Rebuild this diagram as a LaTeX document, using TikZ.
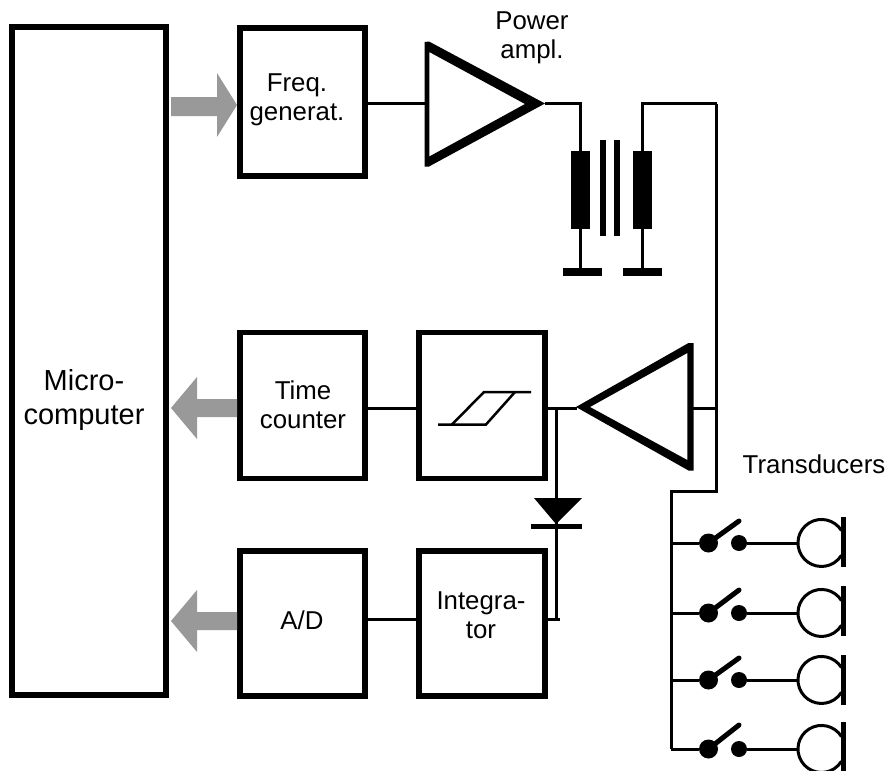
\documentclass[tikz,border=0pt]{standalone}
\usepackage{fontspec}
\setmainfont{Liberation Sans}
\usepackage{xcolor}
\usepackage{tikz}
\definecolor{arrowgray}{HTML}{999999}

\begin{document}
\begin{tikzpicture}[
  x=0.02cm, y=-0.02cm,
  block/.style={draw, line width=0.11cm, inner sep=0pt},
  wire/.style={line width=0.06cm},
  amp/.style={fill=black, even odd rule},
  lbl/.style={inner sep=0pt, align=center, font=\fontsize{14.7}{16.5}\selectfont},
  coil/.style={fill=black, inner sep=0pt, minimum width=0.38cm, minimum height=1.56cm},
  core/.style={fill=black, inner sep=0pt, minimum width=0.11cm, minimum height=1.92cm},
  plate/.style={fill=black, inner sep=0pt, minimum width=0.78cm, minimum height=0.16cm},
  contacta/.style={circle, fill=black, inner sep=0pt, minimum size=0.38cm},
  contactb/.style={circle, fill=black, inner sep=0pt, minimum size=0.32cm},
  blade/.style={line width=0.1cm, line cap=round},
  micplate/.style={fill=black, inner sep=0pt, minimum width=0.11cm, minimum height=1cm},
  bigarrow/.style={fill=arrowgray},
]
\useasboundingbox (0,0) rectangle (886,771);

% Blocks
\node (micro) [block, minimum width=3.08cm, minimum height=13.36cm] at (89,361) {};
\node (freq) [block, minimum width=2.5cm, minimum height=2.96cm] at (302.5,102) {};
\node (time) [block, minimum width=2.5cm, minimum height=2.92cm] at (302.5,405.5) {};
\node (ad) [block, minimum width=2.5cm, minimum height=2.9cm] at (302.5,623.5) {};
\node (schmitt) [block, minimum width=2.52cm, minimum height=2.92cm] at (482,405.5) {};
\node (integ) [block, minimum width=2.52cm, minimum height=2.9cm] at (482,623.5) {};

% Block labels
\node (microtext) [lbl, font=\fontsize{16.5}{19.5}\selectfont] at (84,400) {Micro-\\computer};
\node (freqtext) [lbl] at (297,100) {Freq.\\generat.};
\node (timetext) [lbl] at (303,405) {Time\\counter};
\node (adtext) [lbl] at (302,620) {A/D};
\node (integtext) [lbl] at (481,615) {Integra-\\tor};

% Big arrows
\fill[bigarrow] (171,97) -- (217,97) -- (217,73) -- (237,105) -- (217,137) -- (217,116) -- (171,116) -- cycle;
\fill[bigarrow] (237,399) -- (197,399) -- (197,377) -- (171,408) -- (197,439) -- (197,417) -- (237,417) -- cycle;
\fill[bigarrow] (237,612) -- (197,612) -- (197,590) -- (171,621) -- (197,652) -- (197,630) -- (237,630) -- cycle;

% Power amplifier
\coordinate (pain) at (425,103.5);
\coordinate (paout) at (545,103.5);
\fill[amp] (424.5,42) -- (429,41.5) -- (paout) -- (429,166.5) -- (424.5,166.5) -- cycle
  (429.3,52) -- (525,104) -- (429.3,156.5) -- cycle;
\node (power) [lbl] at (532,38) {Power\\ampl.};
\draw[wire] (freq.east |- pain) -- (pain);

% Transformer
\node (coila) [coil] at (580.5,190) {};
\node (coilb) [coil] at (642.5,190) {};
\node (corea) [core] at (603,188) {};
\node (coreb) [core] at (617,188) {};
\node (gnda) [plate] at (582,272) {};
\node (gndb) [plate] at (642,272) {};
\coordinate (bus) at (716.5,103.5);
\draw[wire] (paout) -| (coila);
\draw[wire] (coila) -- (coila |- gnda.north);
\draw[wire] (coilb) -- (coilb |- gndb.north);
\draw[wire] (coilb) |- (bus);

% Receive amplifier
\coordinate (rain) at (693,408);
\coordinate (raout) at (577,408);
\fill[amp] (693.5,343) -- (688.5,343) -- (576,407) -- (688.5,470.5) -- (693.5,470.5) -- cycle
  (687.3,353) -- (590,407) -- (687.3,460) -- cycle;
\coordinate (busb) at (716.5,408);
\coordinate (busc) at (716.5,491);
\coordinate (busd) at (671,491);
\coordinate (buse) at (671,749);
\draw[wire] (bus) -- (busc) -- (busd) -- (buse);
\draw[wire] (rain) -- (busb);
\draw[wire] (schmitt.east |- raout) -- (raout);

% Hysteresis symbol
\draw[line width=0.05cm] (438,424.5) -- (486,424.5) -- (515,392);
\draw[line width=0.05cm] (452,424.5) -- (484,392) -- (531,392);

% Rest of the chain
\draw[wire] (time.east |- raout) -- (schmitt.west |- raout);

% Diode
\coordinate (diodetop) at (556,408);
\coordinate (diodeend) at (556,619);
\coordinate (diodetick) at (560,619);
\draw[wire] (diodetop) -- (diodeend);
\draw[wire] (integ.east |- diodeend) -- (diodetick);
\draw[wire] (ad.east |- diodeend) -- (integ.west |- diodeend);
\node (diodebar) [fill=black, inner sep=0pt, minimum width=1.02cm, minimum height=0.1cm] at (556.5,526.5) {};
\fill (534,498) -- (582,498) -- (556,524) -- cycle;

% Transducers
\node (trans) [lbl] at (814,464) {Transducers};

% Row 1
\node (swaa) [contacta] at (708.5,543) {};
\node (swab) [contactb] at (739,543) {};
\coordinate (mica) at (798,543);
\node (plata) [micplate] at (843.5,542) {};
\draw[wire] (671,543) -- (swaa);
\draw[wire] (swab) -- (mica);
\draw[blade] (swaa.center) -- (739,521);
\draw[wire] (841.4,530.5) arc[start angle=32, end angle=328, radius=0.47cm];

% Row 2
\node (swba) [contacta] at (708.5,613) {};
\node (swbb) [contactb] at (739,613) {};
\coordinate (micb) at (798,613);
\node (platb) [micplate] at (843.5,611) {};
\draw[wire] (671,613) -- (swba);
\draw[wire] (swbb) -- (micb);
\draw[blade] (swba.center) -- (739,590);
\draw[wire] (841.4,600.5) arc[start angle=32, end angle=328, radius=0.47cm];

% Row 3
\node (swca) [contacta] at (708.5,680) {};
\node (swcb) [contactb] at (739,680) {};
\coordinate (micc) at (798,680);
\node (platc) [micplate] at (843.5,680) {};
\draw[wire] (671,680) -- (swca);
\draw[wire] (swcb) -- (micc);
\draw[blade] (swca.center) -- (739,658);
\draw[wire] (841.4,667.5) arc[start angle=32, end angle=328, radius=0.47cm];

% Row 4
\node (swda) [contacta] at (708.5,749) {};
\node (swdb) [contactb] at (739,749) {};
\coordinate (micd) at (798,749);
\node (platd) [micplate] at (843.5,747) {};
\draw[wire] (buse) -- (swda);
\draw[wire] (swdb) -- (micd);
\draw[blade] (swda.center) -- (739,725);
\draw[wire] (841.4,736.5) arc[start angle=32, end angle=328, radius=0.47cm];

\end{tikzpicture}
\end{document}
